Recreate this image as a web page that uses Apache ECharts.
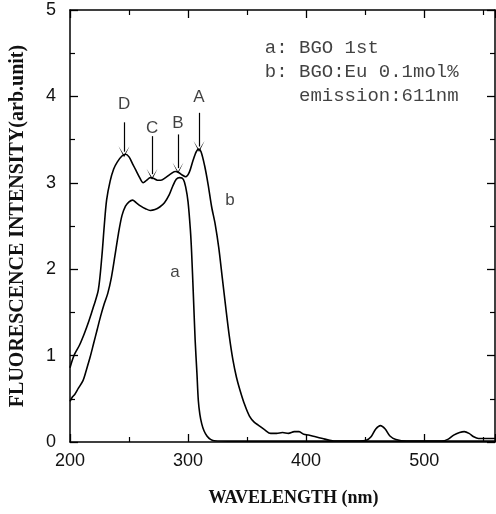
<!DOCTYPE html>
<html><head><meta charset="utf-8">
<script src="https://cdn.jsdelivr.net/npm/echarts@6/dist/echarts.min.js"></script>
<style>html,body{margin:0;padding:0;background:#fff}#c{width:496px;height:514px}</style>
</head><body><div id="c"></div>
<script>
// Wavelength (nm) / intensity pairs
const curveB = [[200,0.86],[202,0.95],[204,1.02],[208,1.12],[212,1.25],[216,1.40],[220,1.57],[224,1.76],[227,2.15],[229,2.50],[231,2.80],[234,3.02],[237,3.16],[240,3.24],[244,3.31],[247,3.33],[250,3.30],[253,3.22],[256,3.14],[259,3.06],[262,3.00],[265,3.03],[268,3.06],[271,3.05],[274,3.03],[277,3.03],[281,3.06],[285,3.10],[289,3.13],[292,3.12],[295,3.09],[298,3.07],[301,3.12],[304,3.25],[307,3.36],[309,3.39],[311,3.36],[314,3.20],[317,2.98],[320,2.72],[323,2.52],[326,2.25],[329,1.90],[332,1.55],[335,1.22],[338,0.95],[341,0.75],[344,0.60],[348,0.43],[352,0.30],[356,0.23],[360,0.19],[365,0.14],[370,0.10],[375,0.10],[380,0.11],[385,0.10],[390,0.12],[394,0.12],[398,0.09],[402,0.08],[408,0.06],[414,0.04],[420,0.02],[426,0.01],[435,0.01],[445,0.01],[451,0.02],[455,0.06],[459,0.15],[463,0.19],[467,0.15],[471,0.07],[476,0.03],[485,0.01],[500,0.01],[515,0.01],[520,0.03],[525,0.08],[530,0.11],[534,0.12],[538,0.10],[542,0.06],[546,0.04],[552,0.04],[560,0.04]];
const curveA = [[200,0.47],[202,0.52],[204,0.55],[207,0.62],[211,0.71],[214,0.84],[217,0.98],[220,1.14],[223,1.30],[226,1.46],[229,1.60],[232,1.72],[235,1.90],[238,2.15],[241,2.41],[244,2.62],[247,2.73],[250,2.78],[253,2.80],[256,2.77],[260,2.73],[264,2.70],[268,2.68],[272,2.69],[276,2.72],[280,2.77],[284,2.86],[287,2.96],[290,3.04],[293,3.06],[296,3.04],[298,2.95],[300,2.78],[302,2.45],[303,2.20],[304.5,1.70],[306,1.18],[307.5,0.80],[308.7,0.48],[310,0.32],[311.6,0.21],[313.5,0.13],[316,0.07],[319,0.03],[322,0.015],[340,0.01],[400,0.01],[460,0.01],[520,0.01],[560,0.01]];
const xTicks = [200,300,400,500];
const yTicks = [0,1,2,3,4,5];
// peak arrows: [label, wavelength, arrow top, arrow tip, label y]
const peaks = [['D',245.8,3.70,3.36,3.91],['C',269.5,3.54,3.10,3.63],['B',291.5,3.56,3.17,3.69],['A',309.3,3.81,3.42,3.99]];
const curveLabels = [['a',289,1.96],['b',335.6,2.80]];
const noteLines = ['a: BGO 1st','b: BGO:Eu 0.1mol%','   emission:611nm'];

const chart = echarts.init(document.getElementById('c'), null, {renderer:'canvas'});
const axisLineStyle = {color:'#000', width:1.5};
function xAx(pos, showLabel){
  return {type:'value', position:pos, min:200, max:560, interval:100,
    axisLine:{show:true, onZero:false, lineStyle:axisLineStyle},
    axisTick:{show:true, inside:true, length:8, lineStyle:{color:'#000',width:1.3}},
    minorTick:{show:true, splitNumber:2, length:5, lineStyle:{color:'#000',width:1.2}},
    splitLine:{show:false},
    axisLabel:{show:showLabel, showMaxLabel:false, margin:10, color:'#111', fontFamily:'Liberation Sans', fontSize:18,
      formatter:v=> xTicks.includes(v)? String(v):''},
    name: showLabel? 'WAVELENGTH (nm)':'', nameLocation:'middle', nameGap:47,
    nameTextStyle:{fontFamily:'Liberation Serif', fontWeight:'bold', fontSize:18, color:'#111', padding:[0,0,0,22]}};
}
function yAx(pos, showLabel){
  return {type:'value', position:pos, min:0, max:5, interval:1,
    axisLine:{show:true, onZero:false, lineStyle:axisLineStyle},
    axisTick:{show:true, inside:true, length:8, lineStyle:{color:'#000',width:1.3}},
    minorTick:{show:true, splitNumber:2, length:5, lineStyle:{color:'#000',width:1.2}},
    splitLine:{show:false},
    axisLabel:{show:showLabel, margin:14, color:'#111', fontFamily:'Liberation Sans', fontSize:18,
      formatter:v=> yTicks.includes(v)? String(v):''},
    name: showLabel? 'FLUORESCENCE INTENSITY(arb.unit)':'', nameLocation:'middle', nameGap:42, nameRotate:90,
    nameTextStyle:{fontFamily:'Liberation Serif', fontWeight:'bold', fontSize:20, color:'#111'}};
}
const textStyleBase = {fontFamily:'Liberation Sans', fontSize:17, color:'#111'};
chart.setOption({
  animation:false,
  grid:{left:70, right:1, top:10, bottom:72},
  xAxis:[xAx('bottom',true), xAx('top',false)],
  yAxis:[yAx('left',true), yAx('right',false)],
  series:[
    {type:'line', name:'b', data:curveB, showSymbol:false, smooth:0.3, lineStyle:{color:'#000', width:1.6},
      markLine:{silent:true, symbol:['none','path://M0,10 L5,0 L10,10 L5,2 Z'], symbolSize:11, symbolOffset:0, label:{show:false},
        lineStyle:{color:'#000', width:1.2, type:'solid'},
        data: peaks.map(p=>[{coord:[p[1],p[2]]},{coord:[p[1],p[3]]}])}},
    {type:'line', name:'a', data:curveA, showSymbol:false, smooth:0.3, lineStyle:{color:'#000', width:1.6}},
    {type:'scatter', symbolSize:0, silent:true,
      data: peaks.map(p=>({value:[p[1],p[4]], name:p[0]})).concat(curveLabels.map(c=>({value:[c[1],c[2]], name:c[0]}))),
      label:{show:true, position:'inside', formatter:p=>p.name, ...textStyleBase}},
    {type:'scatter', symbolSize:0, silent:true,
      data: noteLines.map((t,i)=>({value:[365, 4.56 - i*0.28], name:t})),
      label:{show:true, position:'right', distance:0, formatter:p=>p.name, fontFamily:'Liberation Mono', fontSize:19, color:'#111'}}
  ]
});
</script></body></html>
